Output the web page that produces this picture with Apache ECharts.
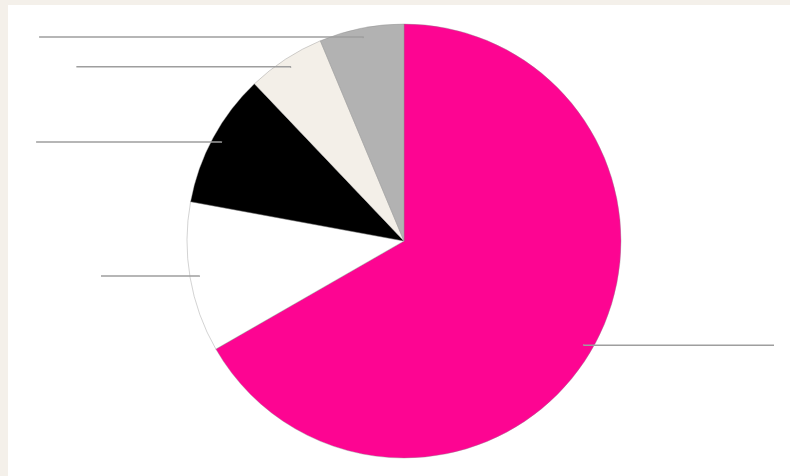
<!DOCTYPE html>
<html>
<head>
<meta charset="utf-8">
<script src="https://cdn.jsdelivr.net/npm/echarts@6/dist/echarts.min.js"></script>
<style>
  html, body { margin: 0; padding: 0; background: #f4f0ea; }
  #chart { position: absolute; left: 8px; top: 5px; width: 782px; height: 471px; background: #ffffff; }
</style>
</head>
<body>
<div id="chart"></div>
<script>
// slices clockwise from 12 o'clock, values in percent
const categories = ['A', 'B', 'C', 'D', 'E']
const values = [66.7, 11.2, 10.0, 5.8, 6.3]
const colors = ['#fd0592', '#ffffff', '#000000', '#f3efe8', '#b2b2b2']
// horizontal length of each leader line
const leaderLengths = [190, 98, 185, 214, 324]

const chart = echarts.init(document.getElementById('chart'))

const pieData = categories.map((name, i) => ({
  name: name,
  value: values[i],
  itemStyle: { color: colors[i] }
}))

const labelData = categories.map((name, i) => ({
  name: name,
  value: values[i],
  labelLine: { length: 1, length2: leaderLengths[i] }
}))

chart.setOption({
  animation: false,
  series: [
    {
      type: 'pie',
      z: 2,
      center: [396, 236],
      radius: 217,
      startAngle: 90,
      clockwise: true,
      silent: true,
      label: { show: false },
      labelLine: { show: false },
      itemStyle: { borderColor: 'rgba(140,140,140,0.55)', borderWidth: 0.7 },
      data: pieData
    },
    {
      // transparent copy on top that only carries the leader lines
      type: 'pie',
      z: 5,
      center: [396, 236],
      radius: 207,
      startAngle: 90,
      clockwise: true,
      silent: true,
      avoidLabelOverlap: false,
      itemStyle: { color: 'rgba(0,0,0,0)', borderWidth: 0 },
      label: {
        show: true,
        position: 'outside',
        alignTo: 'none',
        formatter: '{b}',
        color: 'rgba(0,0,0,0)',
        fontSize: 10
      },
      labelLine: {
        show: true,
        minTurnAngle: 0,
        maxSurfaceAngle: 180,
        lineStyle: { color: '#9e9e9e', width: 1.5 }
      },
      data: labelData
    }
  ]
})
</script>
</body>
</html>
